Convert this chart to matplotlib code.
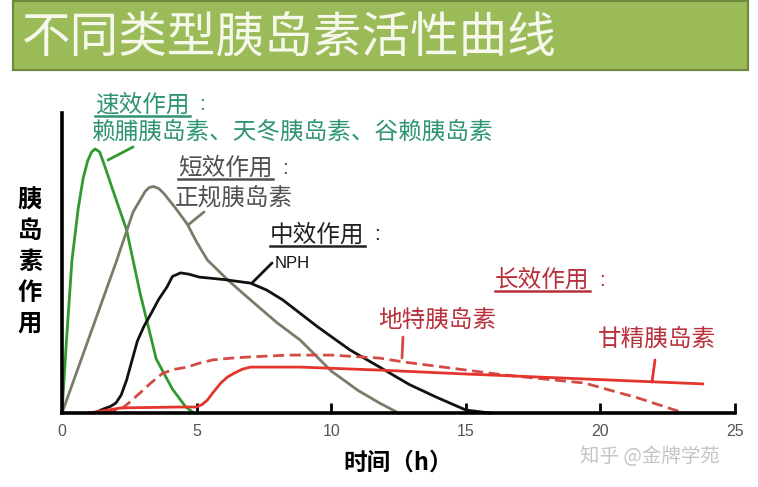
import matplotlib
matplotlib.use('Agg')
import matplotlib.pyplot as plt
from matplotlib.patches import Rectangle
from matplotlib.lines import Line2D

plt.rcParams['font.family'] = ['Noto Sans CJK SC', 'DejaVu Sans']

# 曲线数据（时间 h，作用强度 相对值 0-100）
rapid_t = [0, 0.15, 0.37, 0.6, 0.78, 0.95, 1.1, 1.23, 1.4, 1.6, 1.9, 2.4, 2.9, 3.5, 4.1, 4.6, 4.9]
rapid_y = [0, 22, 51, 68, 78, 84, 87, 88, 87, 82, 74, 61, 40, 18, 8, 2, 0]

short_t = [0, 1.0, 2.0, 2.64, 3.1, 3.25, 3.4, 3.6, 3.8, 4.2, 4.65, 5.0, 5.4, 6.2, 7.0, 8.0, 8.85,
           10.0, 11.0, 11.8, 12.5]
short_y = [0, 25, 50, 67, 74, 75.2, 75.5, 74.8, 73, 68.5, 63, 57, 51, 44, 37.7, 30, 24.3,
           14, 7.5, 3.3, 0]

nph_t = [1.2, 1.5, 1.8, 2.0, 2.2, 2.4, 2.6, 2.8, 3.05, 3.3, 3.6, 3.9, 4.1, 4.4, 4.7, 5.1, 6.0,
         7.0, 7.6, 8.2, 9.5, 10.7, 11.8, 12.9, 13.9, 15.0, 15.9]
nph_y = [0, 1.2, 2.2, 3.3, 6, 11, 17.5, 24, 29, 33, 38, 42, 45.5, 46.7, 46.3, 45.3, 44.5,
         43.3, 41, 37.7, 28.7, 21, 15.3, 9.5, 5.3, 1, 0]

detemir_t = [1.0, 1.6, 2.16, 2.5, 2.9, 3.3, 3.75, 4.2, 4.65, 5.1, 5.6, 6.3, 7.0, 8.4, 10.0,
             11.8, 12.7, 16.4, 19.4, 21.4, 23.0]
detemir_y = [0, 0.3, 1, 3.5, 6.7, 10, 13.3, 14.6, 15.3, 16.6, 17.7, 18.3, 18.7, 19.3, 19.3,
             18.3, 17, 12.7, 10, 5, 0.3]

glargine_t = [1.0, 2.2, 4.4, 5.0, 5.2, 5.4, 5.6, 5.9, 6.15, 6.4, 6.7, 7.0, 8.85, 11.8, 15.0,
              19.0, 23.8]
glargine_y = [0, 1.7, 2, 2, 2.8, 4.3, 6.7, 10, 12, 13.3, 14.6, 15.3, 15.3, 14.3, 13, 11.5, 9.7]

x_ticks = [0, 5, 10, 15, 20, 25]

GREEN = '#2f9a2f'
GREEN_TXT = '#2f9470'
GRAY = '#7b7b6a'
GRAY_TXT = '#505050'
BLACK = '#111111'
RED = '#e3352c'
RED_DASH = '#d44a44'
RED_TXT = '#b8303a'


def px(x, y):
    """像素坐标 -> 数据坐标"""
    return (x - 62) / 26.92, (413 - y) / 3.0


fig = plt.figure(figsize=(7.58, 4.87), dpi=100)

# 标题横幅
fig.patches.append(Rectangle((13 / 758, 1 - 70 / 487), 735 / 758, 69 / 487,
                             transform=fig.transFigure, facecolor='#9bbb59',
                             edgecolor='#6f8a3c', linewidth=1.6))
fig.text(22 / 758, 1 - 38 / 487, '不同类型胰岛素活性曲线', fontsize=35,
         color='#f5f8ea', va='center', ha='left', weight='light')

ax = fig.add_axes([62 / 758, 74 / 487, 673 / 758, 300 / 487])
ax.set_xlim(0, 25)
ax.set_ylim(0, 100)

lw = 2.0
ax.plot(rapid_t, rapid_y, color=GREEN, lw=lw, clip_on=False)
ax.plot(short_t, short_y, color=GRAY, lw=lw, clip_on=False)
ax.plot(nph_t, nph_y, color=BLACK, lw=lw, clip_on=False)
ax.plot(detemir_t, detemir_y, color=RED_DASH, lw=lw, ls=(0, (4, 2)), clip_on=False)
ax.plot(glargine_t, glargine_y, color=RED, lw=lw, clip_on=False)

for s in ['top', 'right']:
    ax.spines[s].set_visible(False)
for s in ['left', 'bottom']:
    ax.spines[s].set_linewidth(2.6)
    ax.spines[s].set_color('black')

ax.set_xticks(x_ticks)
ax.set_xticklabels([str(t) for t in x_ticks], fontsize=11.5, color='#555555',
                   family=['Liberation Sans', 'DejaVu Sans'])
ax.tick_params(axis='x', direction='in', length=7, width=2, pad=8)
ax.set_yticks([])

ax.set_xlabel('时间（h）', fontsize=17, weight='bold', labelpad=8)
fig.text(30 / 758, 1 - 262 / 487, '胰\n岛\n素\n作\n用', fontsize=17.5, weight='bold',
         ha='center', va='center', linespacing=1.35)

# 引线
leaders = [((108, 160), (133, 147), GREEN),
           ((188, 225), (204, 212), GRAY),
           ((252, 283), (272, 263), BLACK),
           ((402, 358), (403, 337), RED_DASH),
           ((652, 382), (655, 360), RED)]
for (x0, y0), (x1, y1), c in leaders:
    ax.annotate('', xy=px(x0, y0), xytext=px(x1, y1), annotation_clip=False,
                arrowprops=dict(arrowstyle='-', color=c, lw=2, shrinkA=0, shrinkB=0))

# 标注文字
headers = []
labels = [((95, 105), '速效作用', GREEN_TXT, True),
          ((92, 133), '赖脯胰岛素、天冬胰岛素、谷赖胰岛素', GREEN_TXT, False),
          ((178, 168), '短效作用', GRAY_TXT, True),
          ((175, 198), '正规胰岛素', GRAY_TXT, False),
          ((270, 235), '中效作用', '#222222', True),
          ((495, 280), '长效作用', RED_TXT, True),
          ((378, 320), '地特胰岛素', RED_TXT, False),
          ((598, 340), '甘精胰岛素', RED_TXT, False)]
for (x, y), s, c, under in labels:
    t = ax.text(*px(x, y), s, fontsize=17, color=c, ha='left', va='center', clip_on=False)
    if under:
        headers.append((t, c))
        ax.annotate(':', xy=(1, 0.5), xycoords=t, xytext=(7, 0), textcoords='offset points',
                    fontsize=15, color=c, ha='left', va='center',
                    family=['Liberation Sans', 'DejaVu Sans'])
ax.text(*px(275, 264), 'NPH', fontsize=12, color='#111111', ha='left', va='center',
        family=['Liberation Sans', 'DejaVu Sans'])

# 水印
fig.text(580 / 758, 1 - 456 / 487, '知乎 @金牌学苑', fontsize=14, color='#c4c4c4',
         ha='left', va='center')

# 标题下划线
fig.canvas.draw()
r = fig.canvas.get_renderer()
for t, c in headers:
    bb = t.get_window_extent(r)
    yl = bb.y0 + 1
    fig.lines.append(Line2D([bb.x0 / 758, bb.x1 / 758], [yl / 487, yl / 487],
                            transform=fig.transFigure, color=c, lw=1.8))

fig.savefig('out.png', dpi=100)
